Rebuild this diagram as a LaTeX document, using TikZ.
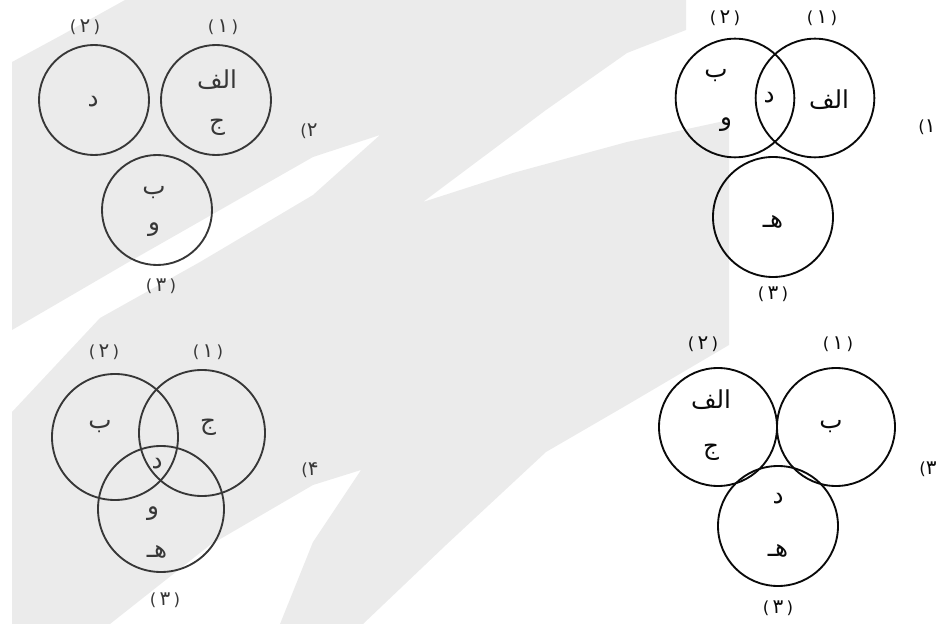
\documentclass[tikz,border=0pt]{standalone}
\usepackage{fontspec}
\TeXXeTstate=1
\newfontfamily\arabicfont[Script=Arabic]{DejaVu Sans}
\newfontfamily\numfont{DejaVu Sans}
\definecolor{wm}{RGB}{235,235,235}
\definecolor{inkL}{RGB}{55,55,55}
\definecolor{inkR}{RGB}{10,10,10}
\tikzset{
  vc/.style={circle, draw=#1, line width=1.4pt, inner sep=0pt, fill=none},
  lbl/.style={text=#1, inner sep=0pt, font=\arabicfont\fontsize{18.5}{20}\selectfont},
  num/.style={text=#1, inner sep=0pt, font=\numfont\fontsize{15}{17}\selectfont},
}
\newcommand{\rl}[1]{\beginR #1\endR}
\newcommand{\pl}{{\fontsize{12.5}{14}\selectfont(}}
\newcommand{\pr}{{\fontsize{12.5}{14}\selectfont)}}
\begin{document}
\begin{tikzpicture}[x=0.75pt,y=-0.75pt]
\useasboundingbox (0,0) rectangle (940,624);
% watermark
\fill[wm] (12,62) -- (60,36) -- (125,0) -- (686,0) -- (686,30) -- (627,53)
  -- (546,110) -- (423,202) -- (513,173) -- (627,142) -- (729,120)
  -- (729,345) -- (627,405) -- (546,452) -- (446,545) -- (363,624)
  -- (280,624) -- (313,542) -- (361,470) -- (313,485) -- (210,545)
  -- (110,624) -- (12,624) -- (12,412) -- (100,318) -- (200,262)
  -- (313,195) -- (380,135) -- (313,157) -- (127,263) -- (12,330) -- cycle;

% ---------- Diagram 1 (top right)
\node[vc=inkR, minimum size=89pt] (a2) at (735,98) {};
\node[vc=inkR, minimum size=89pt] (a1) at (815,98) {};
\node[vc=inkR, minimum size=90pt] (a3) at (773,217) {};
\node[num=inkR] (a2n) at (725,18) {\pl\,۲\,\pr};
\node[num=inkR] (a1n) at (822,18) {\pl\,۱\,\pr};
\node[num=inkR] (a3n) at (773,294) {\pl\,۳\,\pr};
\node[num=inkR] (aq) at (927,127) {\pl۱};
\node[lbl=inkR] (ab) at (716,76) {\rl{ب}};
\node[lbl=inkR] (av) at (726,125) {\rl{و}};
\node[lbl=inkR] (ad) at (769,98) {\rl{د}};
\node[lbl=inkR] (aa) at (829,100) {\rl{الف}};
\node[lbl=inkR] (ah) at (773,222) {\rl{هـ}};

% ---------- Diagram 2 (top left)
\node[vc=inkL, minimum size=82.5pt] (b2) at (94,100) {};
\node[vc=inkL, minimum size=82.5pt] (b1) at (216,100) {};
\node[vc=inkL, minimum size=82.5pt] (b3) at (157,210) {};
\node[num=inkL] (b2n) at (85,27) {\pl\,۲\,\pr};
\node[num=inkL] (b1n) at (223,27) {\pl\,۱\,\pr};
\node[num=inkL] (b3n) at (161,286) {\pl\,۳\,\pr};
\node[num=inkL] (bq) at (309,131) {\pl۲};
\node[lbl=inkL] (bd) at (93,102) {\rl{د}};
\node[lbl=inkL] (ba) at (217,80) {\rl{الف}};
\node[lbl=inkL] (bj) at (217,127) {\rl{ج}};
\node[lbl=inkL] (bb) at (154,193) {\rl{ب}};
\node[lbl=inkL] (bv) at (154,230) {\rl{و}};

% ---------- Diagram 4 (bottom left)
\node[vc=inkL, minimum size=94.5pt] (c2) at (115,437) {};
\node[vc=inkL, minimum size=94.5pt] (c1) at (202,433) {};
\node[vc=inkL, minimum size=94.5pt] (c3) at (161,509) {};
\node[num=inkL] (c2n) at (104,352) {\pl\,۲\,\pr};
\node[num=inkL] (c1n) at (208,352) {\pl\,۱\,\pr};
\node[num=inkL] (c3n) at (165,600) {\pl\,۳\,\pr};
\node[num=inkL] (cq) at (310,470) {\pl۴};
\node[lbl=inkL] (cb) at (100,427) {\rl{ب}};
\node[lbl=inkL] (cj) at (208,427) {\rl{ج}};
\node[lbl=inkL] (cd) at (157,464) {\rl{د}};
\node[lbl=inkL] (cv) at (153,514) {\rl{و}};
\node[lbl=inkL] (ch) at (157,552) {\rl{هـ}};

% ---------- Diagram 3 (bottom right)
\node[vc=inkR, minimum size=88.5pt] (d2) at (718,427) {};
\node[vc=inkR, minimum size=88.5pt] (d1) at (836,427) {};
\node[vc=inkR, minimum size=90pt] (d3) at (778,526) {};
\node[num=inkR] (d2n) at (703,344) {\pl\,۲\,\pr};
\node[num=inkR] (d1n) at (838,344) {\pl\,۱\,\pr};
\node[num=inkR] (d3n) at (778,608) {\pl\,۳\,\pr};
\node[num=inkR] (dq) at (928,469) {\pl۳};
\node[lbl=inkR] (da) at (711,400) {\rl{الف}};
\node[lbl=inkR] (dj) at (711,452) {\rl{ج}};
\node[lbl=inkR] (db) at (831,427) {\rl{ب}};
\node[lbl=inkR] (dd) at (778,499) {\rl{د}};
\node[lbl=inkR] (dh) at (778,551) {\rl{هـ}};
\end{tikzpicture}
\end{document}
